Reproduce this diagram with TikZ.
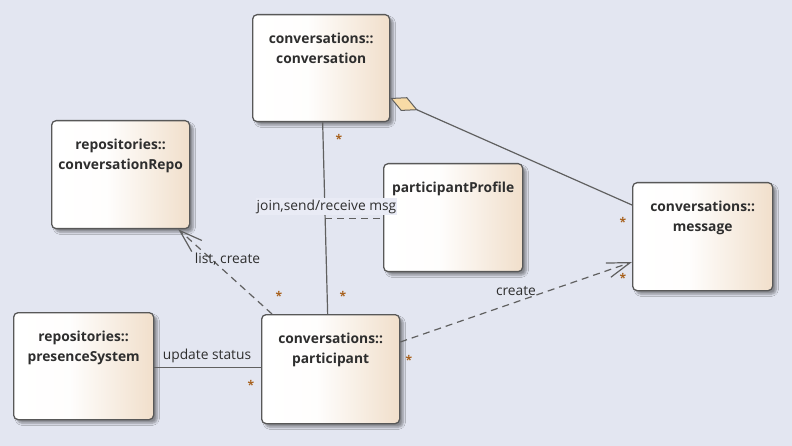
\documentclass[tikz,border=0pt]{standalone}
\usepackage{fontspec}
\setmainfont{Open Sans}
\usetikzlibrary{arrows.meta,calc,shadows.blur}
\definecolor{bg}{HTML}{E3E6F1}
\definecolor{boxR}{HTML}{F1DFCB}
\definecolor{bord}{HTML}{585858}
\definecolor{linec}{HTML}{606060}
\definecolor{txt}{HTML}{2E2E2E}
\definecolor{dia}{HTML}{F8DBA6}
\definecolor{multc}{HTML}{A8621F}
\definecolor{lblbg}{HTML}{E9EBF5}
\pgfdeclarehorizontalshading{boxshade}{100bp}{color(0bp)=(white); color(25bp)=(white); color(45bp)=(white!96!boxR); color(75bp)=(boxR); color(100bp)=(boxR)}
\tikzset{
  clsbox/.style={draw=bord, line width=1.3pt, rounded corners=4.5pt, shading=boxshade,
    inner sep=0pt, anchor=north west,
    blur shadow={shadow xshift=3.5pt, shadow yshift=-3.5pt, shadow blur steps=6, shadow opacity=40}},
  clstext/.style={inner sep=0pt, align=center, anchor=north, text=txt,
    font=\fontsize{13.8}{20}\selectfont\bfseries},
  conn/.style={draw=linec, line width=1.2pt},
  dep/.style={conn, dash pattern=on 7pt off 5pt,
    -{Straight Barb[length=23pt, width=15pt, line width=1.2pt]}},
  lbl/.style={inner sep=0pt, anchor=base, text=txt, font=\fontsize{13.8}{15}\selectfont},
  mult/.style={inner sep=0pt, anchor=base, text=multc, font=\fontsize{12}{14}\selectfont\bfseries}
}
\newcommand\umlcls[6]{%
  \node[clsbox, minimum width=#4pt, minimum height=#5pt] (#1) at (#2,#3) {};
  \node[clstext] (#1-t) at ($(#1.north)+(0,18)$) {\rule{0pt}{11pt}#6};
}
\begin{document}
\begin{tikzpicture}[x=1pt, y=-1pt]
\fill[bg] (0,0) rectangle (792,446);
\useasboundingbox (0,0) rectangle (792,446);

\umlcls{conv}{252}{14}{137}{107}{conversations::\\conversation}
\umlcls{repo}{51}{120}{138}{108}{repositories::\\conversationRepo}
\umlcls{prof}{383}{163}{139}{108}{participantProfile}
\umlcls{msg}{632}{182}{140}{108}{conversations::\\message}
\umlcls{pres}{13}{312}{140}{107}{repositories::\\presenceSystem}
\umlcls{part}{261}{314}{138}{109}{conversations::\\participant}

% conversation -- participant association
\coordinate (ca) at ($(conv.south)+(1.5,0)$);
\coordinate (pa) at ($(part.north)+(-3,0)$);
\draw[conn] (ca) -- (pa);
\coordinate (am) at ($(ca)!0.5!(pa)$);
\draw[conn, dash pattern=on 7pt off 5pt] (am) -- (am -| prof.west);
\node[lbl, fill=lblbg, inner xsep=1pt, inner ysep=2pt, text height=10pt, text depth=3pt] (jl) at (326.5,210.5) {join,send/receive msg};

% composition conversation <>-- message
\coordinate (cd) at ($(conv.north east)+(0,84)$);
\coordinate (md) at ($(msg.north west)+(0,23)$);
\draw[conn, {Diamond[length=30pt, width=15pt, fill=dia, line width=1pt]}-] (cd) -- (md);

% participant --> message (create)
\coordinate (pc) at ($(part.north east)+(0,28)$);
\coordinate (mc) at ($(msg.north west)+(0,80)$);
\draw[dep] (pc) -- (mc);
\node[lbl] (cl) at (516,295) {create};

% participant --> conversationRepo (list, create)
\coordinate (pl) at ($(part.north west)+(11,0)$);
\coordinate (rl) at ($(repo.south east)+(-12,0)$);
\draw[dep] (pl) -- (rl);
\node[lbl] (ll) at (227.5,264) {list, create};

% presenceSystem -- participant (update status)
\coordinate (ps) at ($(pres.east)+(0,1.5)$);
\draw[conn] (ps) -- (ps -| part.west);
\node[lbl] (ul) at (207,359) {update status};

% multiplicities
\node[mult] (m1) at (339,144) {*};
\node[mult] (m2) at (279,301) {*};
\node[mult] (m3) at (343,300) {*};
\node[mult] (m4) at (251,389) {*};
\node[mult] (m5) at (409,364) {*};
\node[mult] (m6) at (623,227) {*};
\node[mult] (m7) at (623,283) {*};
\end{tikzpicture}
\end{document}
